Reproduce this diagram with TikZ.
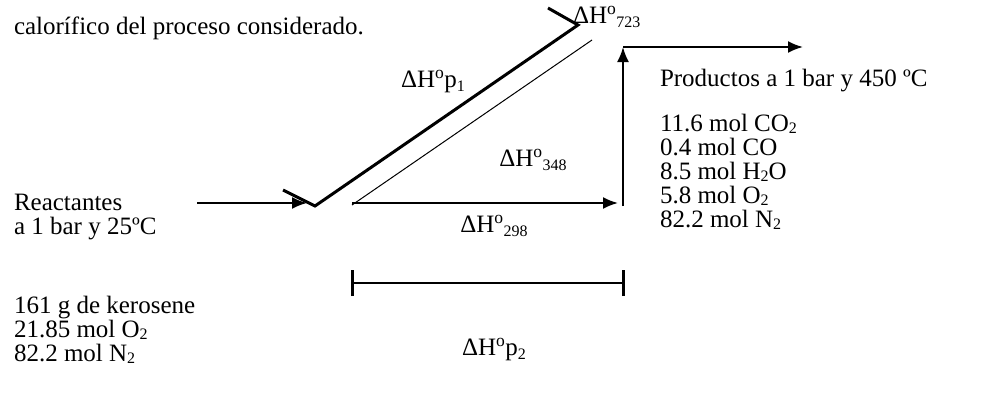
\documentclass[tikz,border=0pt]{standalone}
\usepackage{fontspec}
\setmainfont{Liberation Serif}
\usetikzlibrary{arrows.meta}
\tikzset{
  txt/.style={inner sep=0pt, outer sep=0pt, align=left, font=\fontsize{25}{24}\selectfont},
  arr/.style={line width=2pt, -{Latex[length=15pt,width=12pt]}},
  thick1/.style={line width=3pt, line join=miter},
  thin1/.style={line width=1pt},
  bar/.style={line width=2.5pt},
  tick1/.style={line width=3pt}
}
\newcommand{\dH}{ΔH\textsuperscript{o}}
\newcommand{\sbs}[1]{\raisebox{-0.3ex}{\fontsize{16}{16}\selectfont #1}}
\newcommand{\chs}[1]{\raisebox{-0.22ex}{\fontsize{16}{16}\selectfont #1}}
\begin{document}
\begin{tikzpicture}[x=1pt,y=-1pt]
\useasboundingbox (0,0) rectangle (985,394);
% text
\node[txt, anchor=west] (top) at (14,28) {calorífico del proceso considerado.};
\node[txt, anchor=west] (h723) at (573,17) {\dH\sbs{723}};
\node[txt, anchor=center] (hp1) at (433,82) {\dH p\sbs{1}};
\node[txt, anchor=center] (h348) at (533,160) {\dH\sbs{348}};
\node[txt, anchor=center] (h298) at (494,226) {\dH\sbs{298}};
\node[txt, anchor=center] (hp2) at (494,350) {\dH p\sbs{2}};
\node[txt, anchor=north west] (reac) at (14,194) {Reactantes\\a 1 bar y 25ºC};
\node[txt, anchor=north west] (feed) at (14,296) {161 g de kerosene\\21.85 mol O\chs{2}\\82.2 mol N\chs{2}};
\node[txt, anchor=west] (prod) at (660,81) {Productos a 1 bar y 450 ºC};
\node[txt, anchor=north west] (plist) at (660,114) {11.6 mol CO\chs{2}\\0.4 mol CO\\8.5 mol H\chs{2}O\\5.8 mol O\chs{2}\\82.2 mol N\chs{2}};
% coordinates
\coordinate (a1s) at (197,203);
\coordinate (a1e) at (307,203);
\coordinate (a2s) at (352,203);
\coordinate (a2e) at (618,203);
\coordinate (vb) at (623,206);
\coordinate (vt) at (623,47);
\coordinate (ht) at (803,47);
\coordinate (pl) at (283,190);
\coordinate (pb) at (315,206);
\coordinate (pt) at (578,25);
\coordinate (pr) at (548,8);
\coordinate (ts) at (352,205);
\coordinate (te) at (592,40);
\coordinate (bl) at (352,283);
\coordinate (br) at (623,283);
% connectors
\draw[arr] (a1s) -- (a1e);
\draw[arr] (a2s) -- (a2e);
\draw[arr] (vb) -- (vt);
\draw[arr] (vt) -- (ht);
\draw[thick1] (pl) -- (pb) -- (pt) -- (pr);
\draw[thin1] (ts) -- (te);
\draw[bar] (bl) -- (br);
\draw[tick1] ([yshift=-13pt]bl) -- ([yshift=13pt]bl);
\draw[tick1] ([yshift=-13pt]br) -- ([yshift=13pt]br);
\end{tikzpicture}
\end{document}
